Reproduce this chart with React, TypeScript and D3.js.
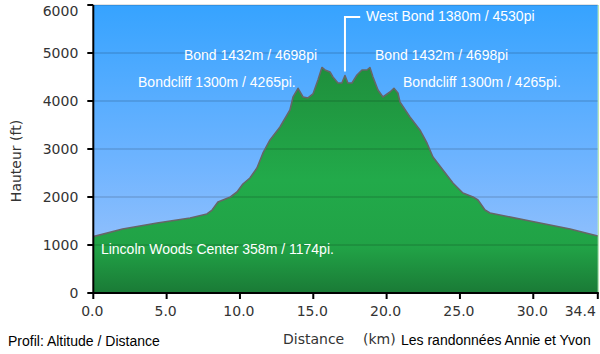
import React from 'react';
import * as d3 from 'd3';

// profile (km, ft)
const distanceKm = [0, 2.0, 4.35, 6.6, 7.75, 8.1, 8.5, 9.35, 9.8, 10.2, 10.68, 11.16, 11.57, 12.05, 12.73, 13.41, 13.62, 13.96, 14.3, 14.64, 14.98, 15.32, 15.59, 15.8, 16.14, 16.34, 16.68, 16.95, 17.16, 17.36, 17.64, 17.98, 18.32, 18.66, 18.86, 19.07, 19.41, 19.75, 20.23, 20.5, 20.77, 20.91, 21.59, 22.27, 22.75, 23.16, 23.84, 24.52, 25.2, 25.89, 26.23, 26.71, 27.05, 29.78, 32.51, 34.4];
const altitudeFt = [1174, 1333, 1458, 1563, 1646, 1729, 1896, 2000, 2104, 2271, 2396, 2604, 2917, 3188, 3458, 3813, 4083, 4265, 4083, 4063, 4146, 4438, 4698, 4646, 4604, 4500, 4375, 4375, 4530, 4375, 4375, 4542, 4646, 4646, 4698, 4500, 4229, 4083, 4188, 4265, 4167, 3979, 3667, 3396, 3125, 2833, 2563, 2292, 2083, 2000, 1938, 1729, 1667, 1500, 1333, 1188];

const yTicks = [0, 1000, 2000, 3000, 4000, 5000, 6000];
const xTicks = [0, 5, 10, 15, 20, 25, 30, 34.4];

// summit labels: text anchored at (km, ft)
const labelTexts = [
  'West Bond 1380m / 4530pi',
  'Bond 1432m / 4698pi',
  'Bond 1432m / 4698pi',
  'Bondcliff 1300m / 4265pi.',
  'Bondcliff 1300m / 4265pi.',
  'Lincoln Woods Center 358m / 1174pi.',
];
const labelKm = [18.59, 6.18, 19.21, 3.05, 21.12, 0.52];
const labelFt = [5667, 4844, 4844, 4292, 4292, 813];

const westBond = {km: 17.16, ft: 4530};

const W = 600, H = 354;
const margin = {top: 5, right: 2.2, bottom: 61, left: 93.3};

export default function App() {
  const x = d3.scaleLinear().domain([0, 34.4]).range([margin.left, W - margin.right]);
  const y = d3.scaleLinear().domain([0, 6000]).range([H - margin.bottom, margin.top]);

  const pts = distanceKm.map((d, i) => [d, altitudeFt[i]] as [number, number]);
  const area = d3.area<[number, number]>().x(d => x(d[0])).y0(y(0)).y1(d => y(d[1]));
  const line = d3.line<[number, number]>().x(d => x(d[0])).y(d => y(d[1]));

  const x0 = x(0), x1 = x(34.4), yTop = y(6000), yBot = y(0);
  const fmt = d3.format('.1f');
  const axisFont = '"DejaVu Sans", Verdana, sans-serif';
  const labelFont = '"Liberation Sans", Arial, sans-serif';

  return (
    <svg width={W} height={H} style={{position: 'absolute', left: 0, top: 0, background: '#fff'}}>
      <defs>
        <linearGradient id="sky" x1="0" y1={yTop} x2="0" y2={yBot} gradientUnits="userSpaceOnUse">
          <stop offset="0" stopColor="#36a3ff" />
          <stop offset="0.55" stopColor="#6fb4ff" />
          <stop offset="1" stopColor="#a3c6fb" />
        </linearGradient>
        <linearGradient id="ground" x1="0" y1={y(4700)} x2="0" y2={yBot} gradientUnits="userSpaceOnUse">
          <stop offset="0" stopColor="#1f8f3c" />
          <stop offset="0.5" stopColor="#22aa4a" />
          <stop offset="0.8" stopColor="#21a246" />
          <stop offset="1" stopColor="#1a7a36" />
        </linearGradient>
      </defs>

      <rect x={x0} y={yTop} width={x1 - x0} height={yBot - yTop} fill="url(#sky)" />
      <path d={area(pts) ?? ''} fill="url(#ground)" />

      {yTicks.slice(1).map(t => (
        <line key={t} x1={x0} x2={x1} y1={y(t)} y2={y(t)} stroke="#000" strokeOpacity={0.15} strokeWidth={1.5} />
      ))}

      <path d={line(pts) ?? ''} fill="none" stroke="#666" strokeWidth={1.6} strokeLinejoin="round" />

      <line x1={x1 + 0.5} x2={x1 + 0.5} y1={yTop} y2={yBot} stroke="#a8e0a0" strokeWidth={1} />

      {/* West Bond leader */}
      <path
        d={`M${x(westBond.km)},${y(westBond.ft) - 4}V${y(5750)}H${x(18.2)}`}
        fill="none" stroke="#fff" strokeWidth={2}
      />

      {labelTexts.map((t, i) => (
        <text key={i} x={x(labelKm[i])} y={y(labelFt[i])} fill="#fff" fontSize={14} fontFamily={labelFont}>{t}</text>
      ))}

      {/* axes */}
      <line x1={x0} x2={x0} y1={yTop} y2={yBot + 1} stroke="#000" strokeWidth={2} />
      <line x1={x0 - 1} x2={x1 + 1} y1={yBot} y2={yBot} stroke="#000" strokeWidth={2} />

      {yTicks.map(t => (
        <g key={t}>
          <line x1={x0 - 6} x2={x0} y1={y(t)} y2={y(t)} stroke="#000" strokeWidth={2} />
          <text x={x0 - 15} y={Math.max(y(t), 11)} dy="0.35em" textAnchor="end" fontSize={14} fill="#333" fontFamily={axisFont}>{t}</text>
        </g>
      ))}
      {xTicks.map((t, i) => (
        <g key={t}>
          <line x1={x(t)} x2={x(t)} y1={yBot} y2={yBot + 6} stroke="#000" strokeWidth={2} />
          <text x={i === xTicks.length - 1 ? x(t) - 2 : x(t) - 1} y={yBot + 23} textAnchor={i === xTicks.length - 1 ? 'end' : 'middle'} fontSize={14} fill="#333" fontFamily={axisFont}>{fmt(t)}</text>
        </g>
      ))}

      <text transform={`translate(21,${(yTop + yBot) / 2 + 12}) rotate(-90)`} textAnchor="middle" fontSize={14} fill="#333" fontFamily={axisFont}>Hauteur (ft)</text>
      <text x={283} y={344} fontSize={14} fill="#333" fontFamily={axisFont}>Distance</text>
      <text x={363} y={344} fontSize={14} fill="#333" fontFamily={axisFont}>(km)</text>
      <text x={401} y={345} fontSize={14} fill="#000" fontFamily={labelFont}>Les randonnées Annie et Yvon</text>
      <text x={8} y={346} fontSize={14} fill="#000" fontFamily={labelFont}>Profil: Altitude / Distance</text>
    </svg>
  );
}
